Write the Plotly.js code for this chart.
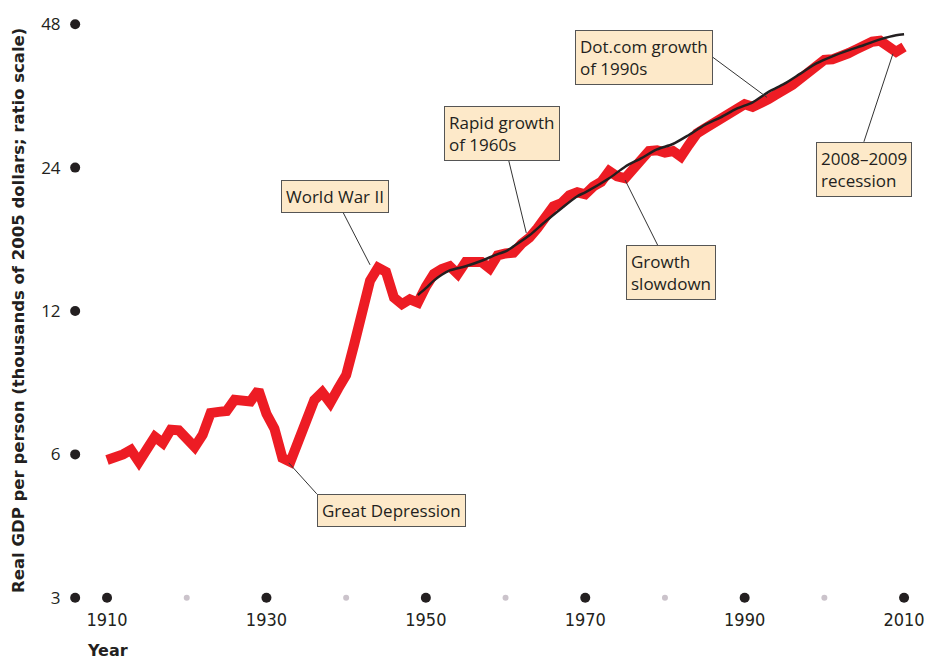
<!DOCTYPE html>
<html>
<head>
<meta charset="utf-8">
<script src="https://cdn.plot.ly/plotly-3.0.1.min.js"></script>
<style>html,body{margin:0;padding:0;background:#fff;}#chart{width:925px;height:659px;}</style>
</head>
<body>
<div id="chart"></div>
<script>
// Real GDP per person, thousands of 2005 dollars
const years = [1910,1911,1912,1913,1914,1915,1916,1917,1918,1919,
  1920,1921,1922,1923,1924,1925,1926,1927,1928,1929,
  1930,1931,1932,1933,1934,1935,1936,1937,1938,1939,
  1940,1941,1942,1943,1944,1945,1946,1947,1948,1949,
  1950,1951,1952,1953,1954,1955,1956,1957,1958,1959,
  1960,1961,1962,1963,1964,1965,1966,1967,1968,1969,
  1970,1971,1972,1973,1974,1975,1976,1977,1978,1979,
  1980,1981,1982,1983,1984,1985,1986,1987,1988,1989,
  1990,1991,1992,1993,1994,1995,1996,1997,1998,1999,
  2000,2001,2002,2003,2004,2005,2006,2007,2008,2009,2010];
const gdp = [5.84,5.90,6.00,6.13,5.79,6.15,6.53,6.34,6.76,6.74,
  6.50,6.22,6.60,7.33,7.37,7.40,7.81,7.75,7.75,8.19,
  7.30,6.80,5.90,5.79,6.40,6.90,7.80,8.10,7.70,8.25,
  8.80,10.2,12.0,13.9,14.8,14.5,12.8,12.4,12.7,12.5,
  13.5,14.35,14.7,14.9,14.35,15.2,15.2,15.2,14.75,15.7,
  15.85,15.9,16.6,17.1,17.9,18.9,19.9,20.2,21.0,21.3,
  21.1,21.9,22.4,23.6,23.0,22.8,23.9,24.9,26.0,26.1,
  25.8,26.0,25.3,26.8,28.3,29.0,29.7,30.4,31.3,32.1,
  32.6,32.2,32.7,33.4,34.2,34.9,35.8,36.9,38.1,39.4,
  40.4,40.5,40.9,41.7,42.5,43.4,44.1,44.3,43.4,42.0,43.0];
// Trend line
const trendYears = [1949,1950,1951,1952,1953,1955,1957,1959,1960,1961,1963,1965,1967,1969,1970,
  1973,1975,1977,1979,1981,1983,1985,1987,1989,1991,1993,1995,1997,1999,2001,2003,2005,2007,2009,2010];
const trend = [12.96,13.4,13.9,14.3,14.6,14.9,15.3,15.8,16.0,16.4,17.3,18.5,19.7,20.9,21.3,
  22.8,24.1,25.1,26.2,26.9,28.1,29.5,30.6,31.9,32.9,34.6,36.0,37.8,39.7,41.1,42.3,43.4,44.6,45.5,45.7];
// Axis ticks
const yTicks = [3,6,12,24,48];
const yTickText = ['3','6','12','24','48'];
const xMajor = [1910,1930,1950,1970,1990,2010];
const xMinor = [1920,1940,1960,1980,2000];
// Annotations: label, tip year, tip value
const notes = [
  {text:'World War II', x:1943.0, y:15.0},
  {text:'Great Depression', x:1932.8, y:5.76},
  {text:'Rapid growth<br>of 1960s', x:1962.6, y:17.5},
  {text:'Dot.com growth<br>of 1990s', x:1992.8, y:33.7},
  {text:'Growth<br>slowdown', x:1975.0, y:22.6},
  {text:'2008\u20132009<br>recession', x:2008.6, y:41.6}
];

const X0 = 1906, X1 = 2012;
const FONT = '"Open Sans", "DejaVu Sans", sans-serif';
const NARROW = '"Liberation Sans Narrow", "DejaVu Sans Condensed", "Open Sans", sans-serif';

const traces = [
  {x: years, y: gdp, type:'scatter', mode:'lines', line:{color:'#ed1c24', width:10}, hoverinfo:'skip'},
  {x: trendYears, y: trend, type:'scatter', mode:'lines', line:{color:'#231f20', width:2.5, shape:'spline', smoothing:0.8}, hoverinfo:'skip'},
  {x: yTicks.map(()=>X0), y: yTicks, type:'scatter', mode:'markers', marker:{color:'#231f20', size:10}, cliponaxis:false, hoverinfo:'skip'},
  {x: xMajor, y: xMajor.map(()=>3), type:'scatter', mode:'markers', marker:{color:'#231f20', size:10}, cliponaxis:false, hoverinfo:'skip'},
  {x: xMinor, y: xMinor.map(()=>3), type:'scatter', mode:'markers', marker:{color:'#cbc3cb', size:6}, cliponaxis:false, hoverinfo:'skip'}
];

// offsets (pixels) of the box anchor from the arrow tip
const geom = [
  {ax:-35, ay:-68, xanchor:'center', yanchor:'middle'},
  {ax:28, ay:31, xanchor:'left', yanchor:'top'},
  {ax:-24, ay:-99, xanchor:'center', yanchor:'middle'},
  {ax:-54, ay:-40, xanchor:'right', yanchor:'middle'},
  {ax:46, ay:92, xanchor:'center', yanchor:'middle'},
  {ax:-29, ay:88, xanchor:'center', yanchor:'top'}
];

const annotations = notes.map((n,i)=>({
  x:n.x, y:Math.log10(n.y), xref:'x', yref:'y', text:n.text, align:'left',
  showarrow:true, arrowhead:0, arrowwidth:1, arrowcolor:'#333',
  ax:geom[i].ax, ay:geom[i].ay, xanchor:geom[i].xanchor, yanchor:geom[i].yanchor,
  bgcolor:'#fde9c9', bordercolor:'#555', borderwidth:1, borderpad:4,
  font:{family:FONT, size:17, color:'#231f20'}
}));
annotations.push({
  xref:'paper', yref:'paper', x:0, y:0.5, xshift:-57, xanchor:'center', yanchor:'middle',
  textangle:-90, showarrow:false,
  text:'<b>Real GDP per person (thousands of 2005 dollars; ratio scale)</b>',
  font:{family:'"DejaVu Sans", sans-serif', size:16.5, color:'#231f20'}
});
annotations.push({
  xref:'x', yref:'paper', x:1910, y:0, yshift:-52, xanchor:'center', yanchor:'middle', showarrow:false,
  text:'<b>Year</b>', font:{family:'"DejaVu Sans", sans-serif', size:16, color:'#231f20'}
});

const PAD = 0.0004;
const layout = {
  width:925, height:659,
  margin:{l:75, r:5, t:24, b:61},
  paper_bgcolor:'#fff', plot_bgcolor:'#fff',
  showlegend:false,
  xaxis:{range:[X0-0.02,X1], showgrid:false, zeroline:false, showline:false,
    tickvals:xMajor, ticktext:xMajor.map(String), ticks:'outside', ticklen:5, tickcolor:'rgba(0,0,0,0)',
    tickfont:{family:NARROW, size:18, color:'#231f20'}},
  yaxis:{type:'log', range:[Math.log10(3)-PAD, Math.log10(48)+PAD], showgrid:false, zeroline:false, showline:false,
    tickvals:yTicks, ticktext:yTickText, ticks:'outside', ticklen:10, tickcolor:'rgba(0,0,0,0)',
    tickfont:{family:FONT, size:17, color:'#231f20'}},
  annotations: annotations
};

Plotly.newPlot('chart', traces, layout, {displayModeBar:false, staticPlot:true});
</script>
</body>
</html>
